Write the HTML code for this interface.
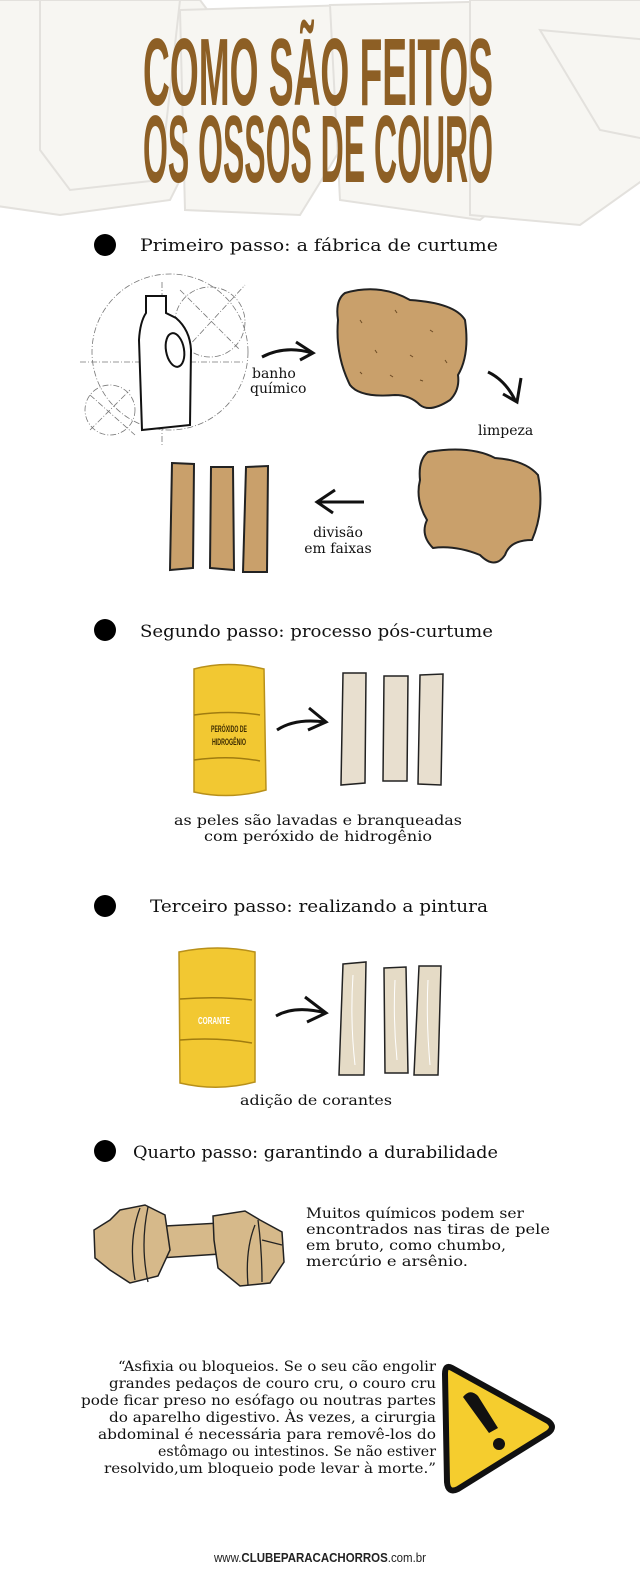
<!DOCTYPE html>
<html><head><meta charset="utf-8"><style>
html,body{margin:0;padding:0;background:#fff}
svg{display:block}
.t{font-family:"DejaVu Serif","Liberation Serif",serif;fill:#111}
.h{font-family:"DejaVu Serif","Liberation Serif",serif;fill:#111;font-size:17px}
.ttl{font-family:"Liberation Sans",sans-serif;font-weight:bold;fill:#8d5f25;font-size:96px}
.sk{fill:none;stroke:#777;stroke-width:.8;stroke-dasharray:6 2 1 2}
</style></head><body>
<svg width="640" height="1584" viewBox="0 0 640 1584" xmlns="http://www.w3.org/2000/svg">
<g fill="#f7f6f2" stroke="#e3e1dd" stroke-width="2">
<path d="M-10 0 L200 0 L215 20 L200 140 L170 200 L60 215 L-10 205 Z"/>
<path d="M40 0 L180 0 L160 180 L70 190 L40 150 Z"/>
<path d="M180 10 L350 5 L340 150 L300 215 L185 210 Z"/>
<path d="M330 5 L560 0 L540 170 L480 220 L340 200 Z"/>
<path d="M470 0 L650 0 L650 175 L580 225 L470 215 Z"/>
<path d="M540 30 L650 40 L650 140 L600 130 Z"/>
</g>
<text class="ttl" x="143" y="105" textLength="350" lengthAdjust="spacingAndGlyphs">COMO SÃO FEITOS</text>
<text class="ttl" x="143" y="182" textLength="350" lengthAdjust="spacingAndGlyphs">OS OSSOS DE COURO</text>

<circle cx="105" cy="245" r="11" fill="#000"/>
<text class="h" x="140" y="251" textLength="358" lengthAdjust="spacingAndGlyphs">Primeiro passo: a fábrica de curtume</text>
<circle cx="105" cy="630" r="11" fill="#000"/>
<text class="h" x="140" y="637" textLength="353" lengthAdjust="spacingAndGlyphs">Segundo passo: processo pós-curtume</text>
<circle cx="105" cy="906" r="11" fill="#000"/>
<text class="h" x="150" y="912" textLength="338" lengthAdjust="spacingAndGlyphs">Terceiro passo: realizando a pintura</text>
<circle cx="105" cy="1151" r="11" fill="#000"/>
<text class="h" x="133" y="1158" textLength="365" lengthAdjust="spacingAndGlyphs">Quarto passo: garantindo a durabilidade</text>

<circle class="sk" cx="170" cy="352" r="78"/>
<circle class="sk" cx="210" cy="322" r="35"/>
<circle class="sk" cx="110" cy="410" r="25"/>
<line class="sk" x1="80" y1="362" x2="245" y2="362"/>
<line class="sk" x1="162" y1="282" x2="162" y2="445"/>
<line class="sk" x1="180" y1="290" x2="240" y2="350"/>
<line class="sk" x1="185" y1="350" x2="245" y2="285"/>
<line class="sk" x1="90" y1="395" x2="135" y2="435"/>
<line class="sk" x1="90" y1="430" x2="130" y2="390"/>
<path d="M146 296 L166 296 L166 313 L176 318 Q190 330 191 350 L190 425 L142 430 L139 340 Q140 322 146 313 Z" fill="#fff" stroke="#111" stroke-width="2"/>
<ellipse cx="175" cy="350" rx="9" ry="17" transform="rotate(-10 175 350)" fill="#fff" stroke="#111" stroke-width="2"/>
<path d="M262 357 Q285 345 312 353" fill="none" stroke="#111" stroke-width="3"/>
<path d="M296 342 L313 353 L300 360" fill="none" stroke="#111" stroke-width="3"/>
<text class="t" x="252" y="378" font-size="14">banho</text>
<text class="t" x="250" y="393" font-size="14">químico</text>
<path d="M345 293 Q380 283 410 300 Q455 303 465 320 Q470 355 458 375 Q460 390 450 400 Q430 413 420 405 Q410 395 395 395 Q360 398 350 385 Q335 355 338 320 Q335 300 345 293 Z" fill="#c9a06b" stroke="#222" stroke-width="2"/>
<g stroke="#6b4a24" stroke-width="1"><line x1="360" y1="320" x2="362" y2="323"/><line x1="395" y1="310" x2="397" y2="313"/><line x1="430" y1="330" x2="433" y2="332"/><line x1="375" y1="350" x2="377" y2="353"/><line x1="410" y1="355" x2="413" y2="357"/><line x1="445" y1="360" x2="447" y2="363"/><line x1="390" y1="375" x2="393" y2="377"/><line x1="420" y1="380" x2="423" y2="381"/><line x1="360" y1="372" x2="362" y2="374"/></g>
<path d="M488 372 Q505 380 515 400" fill="none" stroke="#111" stroke-width="3"/>
<path d="M521 378 L517 402 L503 394" fill="none" stroke="#111" stroke-width="3"/>
<text class="t" x="478" y="435" font-size="14">limpeza</text>
<path d="M428 452 Q470 445 495 458 Q525 460 538 475 Q545 510 532 540 Q510 540 505 555 Q495 570 480 555 Q455 545 433 548 Q420 535 427 520 Q415 500 420 480 Q418 460 428 452 Z" fill="#c9a06b" stroke="#222" stroke-width="2"/>
<path d="M364 502 L318 502" fill="none" stroke="#111" stroke-width="3"/>
<path d="M335 490 L317 502 L333 513" fill="none" stroke="#111" stroke-width="3"/>
<text class="t" x="338" y="537" font-size="14" text-anchor="middle">divisão</text>
<text class="t" x="338" y="553" font-size="14" text-anchor="middle">em faixas</text>
<g fill="#c9a06b" stroke="#222" stroke-width="2">
<path d="M172 463 L194 464 L193 568 L170 570 Z"/>
<path d="M211 467 L233 467 L234 570 L210 568 Z"/>
<path d="M246 467 L268 466 L267 572 L243 572 Z"/>
</g>

<path d="M194 669 Q228 660 264 669 L266 790 Q230 800 194 792 Z" fill="#f2c832" stroke="#b8901a" stroke-width="1.5"/>
<path d="M194 715 Q230 710 260 715 M194 760 Q230 755 260 761" stroke="#a07c10" stroke-width="1.5" fill="none"/>
<text x="229" y="732" font-family="Liberation Sans,sans-serif" font-weight="bold" font-size="9" fill="#3b2a00" text-anchor="middle" textLength="36" lengthAdjust="spacingAndGlyphs">PERÓXIDO DE</text>
<text x="229" y="745" font-family="Liberation Sans,sans-serif" font-weight="bold" font-size="9" fill="#3b2a00" text-anchor="middle" textLength="34" lengthAdjust="spacingAndGlyphs">HIDROGÊNIO</text>
<path d="M277 730 Q295 718 325 722" fill="none" stroke="#111" stroke-width="3"/>
<path d="M309 708 L326 722 L308 730" fill="none" stroke="#111" stroke-width="3"/>
<g fill="#e8dfcf" stroke="#222" stroke-width="1.5">
<path d="M343 673 L366 673 L365 783 L341 785 Z"/>
<path d="M384 676 L408 676 L407 781 L383 781 Z"/>
<path d="M420 675 L443 674 L441 785 L418 784 Z"/>
</g>
<text class="t" x="318" y="825" font-size="14" text-anchor="middle" textLength="288" lengthAdjust="spacingAndGlyphs">as peles são lavadas e branqueadas</text>
<text class="t" x="318" y="841" font-size="14" text-anchor="middle" textLength="228" lengthAdjust="spacingAndGlyphs">com peróxido de hidrogênio</text>

<path d="M179 952 Q218 944 255 952 L255 1082 Q218 1092 180 1083 Z" fill="#f2c832" stroke="#b8901a" stroke-width="1.5"/>
<path d="M180 999 Q218 996 252 1000 M180 1040 Q218 1037 252 1043" stroke="#a07c10" stroke-width="1.5" fill="none"/>
<text x="214" y="1024" font-family="Liberation Sans,sans-serif" font-weight="bold" font-size="10" fill="#fff" text-anchor="middle" textLength="32" lengthAdjust="spacingAndGlyphs">CORANTE</text>
<path d="M276 1016 Q295 1005 326 1013" fill="none" stroke="#111" stroke-width="3"/>
<path d="M305 997 L326 1013 L307 1022" fill="none" stroke="#111" stroke-width="3"/>
<g fill="#e5dbc6" stroke="#222" stroke-width="1.5">
<path d="M343 964 L366 962 L364 1075 L339 1075 Z"/>
<path d="M384 968 L406 967 L408 1073 L385 1073 Z"/>
<path d="M419 966 L441 966 L438 1075 L414 1075 Z"/>
</g>
<g stroke="#fff" stroke-width="1" fill="none"><path d="M353 975 Q350 1020 355 1065"/><path d="M395 980 Q393 1020 397 1060"/><path d="M428 980 Q426 1020 430 1065"/></g>
<text class="t" x="316" y="1105" font-size="14" text-anchor="middle" textLength="152" lengthAdjust="spacingAndGlyphs">adição de corantes</text>

<g fill="#d6b98a" stroke="#222" stroke-width="1.5">
<path d="M165 1226 L220 1223 L220 1254 L160 1258 Z"/>
<path d="M120 1210 L145 1205 L165 1215 L170 1250 L158 1276 L130 1283 L110 1270 L95 1258 L94 1230 L110 1220 Z"/>
<path d="M213 1216 L245 1211 L260 1220 L282 1232 L284 1262 L270 1283 L240 1286 L218 1268 L214 1240 Z"/>
</g>
<g stroke="#222" stroke-width="1.3" fill="none"><path d="M140 1208 Q128 1240 135 1280"/><path d="M148 1207 Q140 1245 148 1282"/><path d="M258 1220 Q262 1250 262 1282"/><path d="M262 1240 L282 1245"/><path d="M255 1225 Q245 1250 248 1285"/></g>
<g class="t" font-size="14">
<text x="306" y="1218" textLength="218" lengthAdjust="spacingAndGlyphs">Muitos químicos podem ser</text>
<text x="306" y="1234" textLength="244" lengthAdjust="spacingAndGlyphs">encontrados nas tiras de pele</text>
<text x="306" y="1250" textLength="200" lengthAdjust="spacingAndGlyphs">em bruto, como chumbo,</text>
<text x="306" y="1266" textLength="162" lengthAdjust="spacingAndGlyphs">mercúrio e arsênio.</text>
</g>

<g class="t" font-size="14" text-anchor="end">
<text x="436" y="1371" textLength="318" lengthAdjust="spacingAndGlyphs">“Asfixia ou bloqueios. Se o seu cão engolir</text>
<text x="436" y="1388" textLength="327" lengthAdjust="spacingAndGlyphs">grandes pedaços de couro cru, o couro cru</text>
<text x="436" y="1405" textLength="355" lengthAdjust="spacingAndGlyphs">pode ficar preso no esófago ou noutras partes</text>
<text x="436" y="1422" textLength="327" lengthAdjust="spacingAndGlyphs">do aparelho digestivo. Às vezes, a cirurgia</text>
<text x="436" y="1439" textLength="338" lengthAdjust="spacingAndGlyphs">abdominal é necessária para removê-los do</text>
<text x="436" y="1456" textLength="278" lengthAdjust="spacingAndGlyphs">estômago ou intestinos. Se não estiver</text>
<text x="436" y="1473" textLength="332" lengthAdjust="spacingAndGlyphs">resolvido,um bloqueio pode levar à morte.”</text>
</g>
<path d="M452 1368 Q445 1364 445 1374 L447 1482 Q448 1494 458 1489 L548 1433 Q556 1427 548 1421 Z" fill="#f5cd2e" stroke="#111" stroke-width="6" stroke-linejoin="round"/>
<path d="M463 1397 Q470 1388 478 1396 L498 1428 L489 1433 Z" fill="#111"/>
<circle cx="499" cy="1444" r="6" fill="#111"/>

<text x="320" y="1562" font-family="Liberation Sans,sans-serif" font-size="13" fill="#222" text-anchor="middle" textLength="212" lengthAdjust="spacingAndGlyphs">www.<tspan font-weight="bold">CLUBEPARACACHORROS</tspan>.com.br</text>
</svg>
</body></html>
